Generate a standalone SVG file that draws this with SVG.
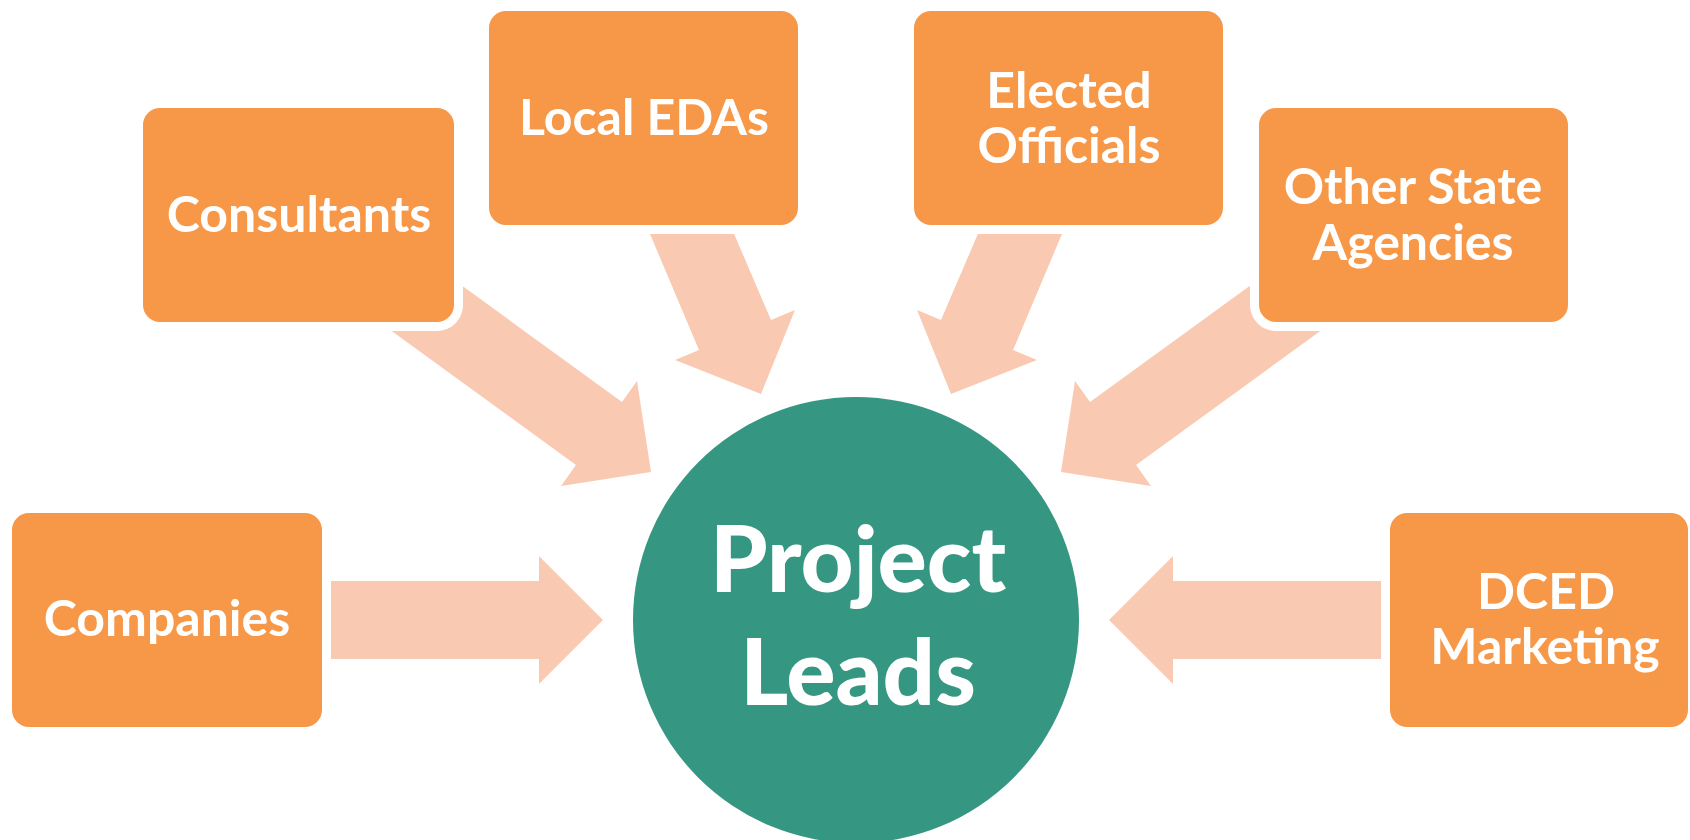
<svg xmlns="http://www.w3.org/2000/svg" width="1690" height="840" viewBox="0 0 1690 840">
<style>
.arrow{fill:#FAC9B1;}
.halo{fill:#FFFFFF;}
.box{fill:#F79748;}
.lbl{font-family:Lato,"Liberation Sans",sans-serif;font-weight:700;font-size:50px;fill:#FFFFFF;text-anchor:middle;}
.big{font-family:Lato,"Liberation Sans",sans-serif;font-weight:900;font-size:92px;fill:#FFFFFF;text-anchor:middle;}
</style>
<rect width="1690" height="840" fill="#FFFFFF"/>
<g id="connectors">
<polygon class="arrow" points="428,261 622,402 637,381 651,472 561,486 576,465 382,324"/>
<polygon class="arrow" points="1284,261 1090,402 1075,381 1061,472 1151,486 1136,465 1330,324"/>
<polygon class="arrow" points="642,215 726,215 771,320 795,310 761,394 675,360 699,350"/>
<polygon class="arrow" points="1070,215 986,215 941,320 917,310 951,394 1037,360 1013,350"/>
<polygon class="arrow" points="300,581 539,581 539,556 603,620 539,684 539,659 300,659"/>
<polygon class="arrow" points="1410,581 1173,581 1173,556 1109,620 1173,684 1173,659 1410,659"/>
</g>
<g id="node-consultants">
<rect class="halo" x="134" y="99" width="329" height="232" rx="26"/>
<rect class="box" x="143" y="108" width="311" height="214" rx="17"/>
<text class="lbl" x="299" y="232">Consultants</text>
</g>
<g id="node-local-edas">
<rect class="halo" x="480" y="2" width="327" height="232" rx="26"/>
<rect class="box" x="489" y="11" width="309" height="214" rx="17"/>
<text class="lbl" x="644" y="135">Local EDAs</text>
</g>
<g id="node-elected-officials">
<rect class="halo" x="905" y="2" width="327" height="232" rx="26"/>
<rect class="box" x="914" y="11" width="309" height="214" rx="17"/>
<text class="lbl" x="1069" y="108">Elected</text>
<text class="lbl" x="1069" y="163">Officials</text>
</g>
<g id="node-other-state-agencies">
<rect class="halo" x="1250" y="99" width="327" height="232" rx="26"/>
<rect class="box" x="1259" y="108" width="309" height="214" rx="17"/>
<text class="lbl" x="1413" y="204">Other State</text>
<text class="lbl" x="1413" y="260">Agencies</text>
</g>
<g id="node-companies">
<rect class="halo" x="3" y="504" width="328" height="232" rx="26"/>
<rect class="box" x="12" y="513" width="310" height="214" rx="17"/>
<text class="lbl" x="167" y="636">Companies</text>
</g>
<g id="node-dced-marketing">
<rect class="halo" x="1381" y="504" width="316" height="232" rx="26"/>
<rect class="box" x="1390" y="513" width="298" height="214" rx="17"/>
<text class="lbl" x="1546" y="609">DCED</text>
<text class="lbl" x="1545" y="664">Marketing</text>
</g>
<g id="node-project-leads">
<circle cx="856" cy="620" r="223" fill="#359682"/>
<text class="big" x="858" y="592">Project</text>
<text class="big" x="858" y="705">Leads</text>
</g>
</svg>
